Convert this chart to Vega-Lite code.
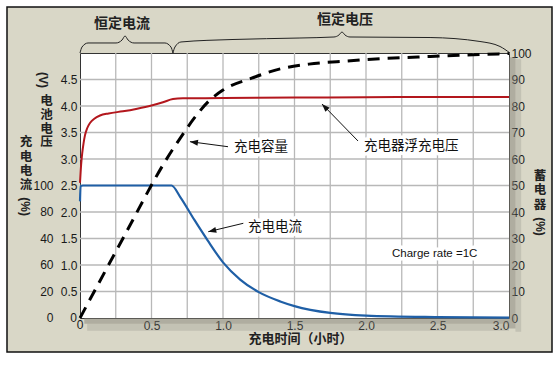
{
  "$schema": "https://vega.github.io/schema/vega-lite/v6.json",
  "width": 429,
  "height": 265,
  "autosize": {"type": "none"},
  "padding": {"left": 80, "top": 53, "right": 51, "bottom": 51},
  "background": "#d9d7c7",
  "config": {
    "view": {"fill": "#ffffff", "stroke": "#333333", "strokeWidth": 1},
    "axis": {
      "labelFont": "Liberation Sans",
      "labelFontSize": 12,
      "labelColor": "#1a1a1a",
      "domain": false,
      "ticks": false,
      "grid": false,
      "labelOverlap": false
    }
  },
  "datasets": {
    "margins": [
      {"t": -0.6, "t2": -0.5105, "v": -1.0, "v2": 6.1},
      {"t": 3.3007, "t2": 3.4, "v": -1.0, "v2": 6.1},
      {"t": -0.6, "t2": 3.4, "v": 5.868, "v2": 6.1},
      {"t": -0.6, "t2": 3.4, "v": -1.0, "v2": -0.6415}
    ],
    "border": [
      {"t": -0.5105, "t2": 3.3007, "v": -0.6415, "v2": 5.868}
    ],
    "shadow": [
      {"part": "inner", "t": 3.0, "t2": 3.045, "v": -0.2, "v2": 4.92},
      {"part": "outer", "t": 3.045, "t2": 3.085, "v": -0.26, "v2": 4.88},
      {"part": "inner", "t": 0.03, "t2": 3.0, "v": -0.11, "v2": 0},
      {"part": "outer", "t": 0.05, "t2": 3.0, "v": -0.24, "v2": -0.11}
    ],
    "gridT": [
      {"t": 0.25}, {"t": 0.5}, {"t": 0.75}, {"t": 1.0}, {"t": 1.25}, {"t": 1.5},
      {"t": 1.75}, {"t": 2.0}, {"t": 2.25}, {"t": 2.5}, {"t": 2.75}
    ],
    "gridV": [
      {"v": 0.5}, {"v": 1.0}, {"v": 1.5}, {"v": 2.0}, {"v": 2.5},
      {"v": 3.0}, {"v": 3.5}, {"v": 4.0}, {"v": 4.5}
    ],
    "voltage": [
      {"t": 0, "v": 2.55}, {"t": 0.008, "v": 2.9}, {"t": 0.016, "v": 3.12}, {"t": 0.025, "v": 3.3},
      {"t": 0.035, "v": 3.45}, {"t": 0.05, "v": 3.58}, {"t": 0.07, "v": 3.68}, {"t": 0.1, "v": 3.76},
      {"t": 0.14, "v": 3.82}, {"t": 0.2, "v": 3.86}, {"t": 0.3, "v": 3.9}, {"t": 0.4, "v": 3.95},
      {"t": 0.5, "v": 4.01}, {"t": 0.58, "v": 4.07}, {"t": 0.65, "v": 4.13}, {"t": 0.72, "v": 4.145},
      {"t": 1.0, "v": 4.15}, {"t": 1.5, "v": 4.16}, {"t": 2.0, "v": 4.165}, {"t": 2.5, "v": 4.17}, {"t": 3.0, "v": 4.17}
    ],
    "current": [
      {"t": 0, "c": 88}, {"t": 0.004, "c": 99.5}, {"t": 0.02, "c": 100}, {"t": 0.3, "c": 100},
      {"t": 0.64, "c": 100}, {"t": 0.7, "c": 91.5}, {"t": 0.8, "c": 74}, {"t": 0.89, "c": 59},
      {"t": 1.0, "c": 42}, {"t": 1.12, "c": 29}, {"t": 1.25, "c": 19.5}, {"t": 1.4, "c": 12.5},
      {"t": 1.5, "c": 9}, {"t": 1.75, "c": 3.8}, {"t": 2.0, "c": 1.8}, {"t": 2.5, "c": 0.7}, {"t": 3.0, "c": 0.3}
    ],
    "capacity": [
      {"t": 0, "cap": 0}, {"t": 0.3, "cap": 30}, {"t": 0.6, "cap": 59.5}, {"t": 0.65, "cap": 63.8},
      {"t": 0.7, "cap": 67.8}, {"t": 0.8, "cap": 75.5}, {"t": 0.9, "cap": 81.8}, {"t": 1.0, "cap": 86},
      {"t": 1.2, "cap": 90.5}, {"t": 1.4, "cap": 94}, {"t": 1.6, "cap": 95.8}, {"t": 1.87, "cap": 97},
      {"t": 2.0, "cap": 97.5}, {"t": 2.45, "cap": 98.7}, {"t": 3.0, "cap": 99.8}
    ],
    "braces": [
      {"b": "cc", "t": 0, "v": 5.0}, {"b": "cc", "t": 0.014, "v": 5.113}, {"b": "cc", "t": 0.056, "v": 5.189},
      {"b": "cc", "t": 0.252, "v": 5.189}, {"b": "cc", "t": 0.294, "v": 5.245}, {"b": "cc", "t": 0.315, "v": 5.321},
      {"b": "cc", "t": 0.336, "v": 5.245}, {"b": "cc", "t": 0.378, "v": 5.189}, {"b": "cc", "t": 0.594, "v": 5.189},
      {"b": "cc", "t": 0.636, "v": 5.113}, {"b": "cc", "t": 0.65, "v": 5.0},
      {"b": "cv", "t": 0.65, "v": 5.0}, {"b": "cv", "t": 0.664, "v": 5.113}, {"b": "cv", "t": 0.706, "v": 5.208},
      {"b": "cv", "t": 1.07, "v": 5.255}, {"b": "cv", "t": 1.538, "v": 5.283}, {"b": "cv", "t": 1.776, "v": 5.302},
      {"b": "cv", "t": 1.811, "v": 5.34}, {"b": "cv", "t": 1.832, "v": 5.396}, {"b": "cv", "t": 1.853, "v": 5.34},
      {"b": "cv", "t": 1.888, "v": 5.302}, {"b": "cv", "t": 2.448, "v": 5.292}, {"b": "cv", "t": 2.797, "v": 5.217},
      {"b": "cv", "t": 2.937, "v": 5.123}, {"b": "cv", "t": 3.007, "v": 5.0}
    ],
    "arrows": [
      {"id": "cap", "t": 0.769, "v": 3.327, "t2": 1.035, "v2": 3.232},
      {"id": "cur", "t": 0.897, "v": 1.628, "t2": 1.142, "v2": 1.787},
      {"id": "flt", "t": 1.692, "v": 4.038, "t2": 1.944, "v2": 3.34}
    ],
    "labels": [
      {"t": 1.077, "v": 3.217, "label": "充电容量"},
      {"t": 1.175, "v": 1.717, "label": "充电电流"},
      {"t": 1.986, "v": 3.245, "label": "充电器浮充电压"}
    ],
    "note": [
      {"t": 2.182, "v": 1.208, "label": "Charge rate =1C"}
    ],
    "currentTicks": [
      {"t": -0.185, "v": 0, "label": "0"}, {"t": -0.185, "v": 0.5, "label": "20"},
      {"t": -0.185, "v": 1.0, "label": "60"}, {"t": -0.185, "v": 1.5, "label": "40"},
      {"t": -0.185, "v": 2.0, "label": "80"}, {"t": -0.185, "v": 2.5, "label": "100"}
    ],
    "chars": [
      {"t": -0.234, "v": 4.094, "ch": "电"}, {"t": -0.234, "v": 3.83, "ch": "池"},
      {"t": -0.234, "v": 3.575, "ch": "电"}, {"t": -0.234, "v": 3.321, "ch": "压"},
      {"t": -0.378, "v": 3.321, "ch": "充"}, {"t": -0.378, "v": 3.047, "ch": "电"},
      {"t": -0.378, "v": 2.774, "ch": "电"}, {"t": -0.378, "v": 2.509, "ch": "流"},
      {"t": 3.217, "v": 2.679, "ch": "蓄"}, {"t": 3.217, "v": 2.406, "ch": "电"},
      {"t": 3.217, "v": 2.132, "ch": "器"}
    ],
    "titles": [
      {"role": "rot", "t": -0.259, "v": 4.49, "label": "(V)"},
      {"role": "rot", "t": -0.385, "v": 2.1, "label": "(%)"},
      {"role": "rot", "t": 3.217, "v": 1.726, "label": "(%)"},
      {"role": "head", "t": 0.294, "v": 5.547, "label": "恒定电流"},
      {"role": "head", "t": 1.853, "v": 5.623, "label": "恒定电压"},
      {"role": "xtitle", "t": 1.542, "v": -0.405, "label": "充电时间（小时）"},
      {"role": "zero", "t": -0.021, "v": 0, "label": "0"},
      {"role": "xzero", "t": 0, "v": -0.135, "label": "0"}
    ]
  },
  "resolve": {"scale": {"x": "independent", "y": "independent"}},
  "layer": [
    {
      "layer": [
        {
          "data": {"name": "margins"},
          "mark": {"type": "rect", "fill": "#ffffff"},
          "encoding": {
            "x": {"field": "t", "type": "quantitative", "scale": {"domain": [0, 3], "nice": false, "zero": false}, "axis": null},
            "x2": {"field": "t2"},
            "y": {"field": "v", "type": "quantitative", "scale": {"domain": [0, 5], "nice": false, "zero": false}, "axis": null},
            "y2": {"field": "v2"}
          }
        },
        {
          "data": {"name": "border"},
          "mark": {"type": "rect", "filled": false, "stroke": "#111111", "strokeWidth": 1.5},
          "encoding": {
            "x": {"field": "t", "type": "quantitative", "scale": {"domain": [0, 3], "nice": false, "zero": false}, "axis": null},
            "x2": {"field": "t2"},
            "y": {"field": "v", "type": "quantitative", "scale": {"domain": [0, 5], "nice": false, "zero": false}, "axis": null},
            "y2": {"field": "v2"}
          }
        },
        {
          "data": {"name": "shadow"},
          "transform": [{"filter": "datum.part == 'inner'"}],
          "mark": {"type": "rect", "fill": "#85847a", "opacity": 0.5},
          "encoding": {
            "x": {"field": "t", "type": "quantitative", "scale": {"domain": [0, 3], "nice": false, "zero": false}, "axis": null},
            "x2": {"field": "t2"},
            "y": {"field": "v", "type": "quantitative", "scale": {"domain": [0, 5], "nice": false, "zero": false}, "axis": null},
            "y2": {"field": "v2"}
          }
        },
        {
          "data": {"name": "shadow"},
          "transform": [{"filter": "datum.part == 'outer'"}],
          "mark": {"type": "rect", "fill": "#85847a", "opacity": 0.25},
          "encoding": {
            "x": {"field": "t", "type": "quantitative", "scale": {"domain": [0, 3], "nice": false, "zero": false}, "axis": null},
            "x2": {"field": "t2"},
            "y": {"field": "v", "type": "quantitative", "scale": {"domain": [0, 5], "nice": false, "zero": false}, "axis": null},
            "y2": {"field": "v2"}
          }
        },
        {
          "data": {"name": "gridT"},
          "mark": {"type": "rule", "color": "#b8b8b8", "strokeWidth": 1.3},
          "encoding": {
            "x": {"field": "t", "type": "quantitative", "scale": {"domain": [0, 3], "nice": false, "zero": false}, "axis": null}
          }
        },
        {
          "data": {"name": "gridV"},
          "mark": {"type": "rule", "color": "#b8b8b8", "strokeWidth": 1.3},
          "encoding": {
            "y": {"field": "v", "type": "quantitative", "scale": {"domain": [0, 5], "nice": false, "zero": false}, "axis": null}
          }
        }
      ]
    },
    {
      "data": {"name": "voltage"},
      "mark": {"type": "line", "color": "#b3171d", "strokeWidth": 2, "interpolate": "monotone"},
      "encoding": {
        "x": {"field": "t", "type": "quantitative", "scale": {"domain": [0, 3], "nice": false, "zero": false}, "axis": null},
        "y": {
          "field": "v", "type": "quantitative",
          "scale": {"domain": [0, 5], "nice": false, "zero": false},
          "axis": {
            "orient": "left",
            "values": [0.5, 1, 1.5, 2, 2.5, 3, 3.5, 4, 4.5],
            "format": ".1f",
            "grid": false,
            "labelPadding": 3,
            "title": null
          }
        }
      }
    },
    {
      "data": {"name": "current"},
      "mark": {"type": "line", "color": "#1f5fa6", "strokeWidth": 2.2, "interpolate": "monotone"},
      "encoding": {
        "x": {"field": "t", "type": "quantitative", "scale": {"domain": [0, 3], "nice": false, "zero": false}, "axis": null},
        "y": {"field": "c", "type": "quantitative", "scale": {"domain": [0, 200], "nice": false}, "axis": null}
      }
    },
    {
      "data": {"name": "capacity"},
      "mark": {"type": "line", "color": "#000000", "strokeWidth": 3, "strokeDash": [12, 8], "interpolate": "monotone"},
      "encoding": {
        "x": {
          "field": "t", "type": "quantitative",
          "scale": {"domain": [0, 3], "nice": false, "zero": false},
          "axis": {
            "orient": "bottom",
            "values": [0.5, 1, 1.5, 2, 2.5, 3],
            "format": ".1f",
            "grid": false,
            "labelFlush": true,
            "labelPadding": 2,
            "title": null
          }
        },
        "y": {
          "field": "cap", "type": "quantitative",
          "scale": {"domain": [0, 100], "nice": false},
          "axis": {
            "orient": "right",
            "values": [0, 10, 20, 30, 40, 50, 60, 70, 80, 90, 100],
            "grid": false,
            "labelPadding": 2,
            "title": null
          }
        }
      }
    },
    {
      "encoding": {
        "x": {"field": "t", "type": "quantitative", "scale": {"domain": [0, 3], "nice": false, "zero": false}, "axis": null},
        "y": {"field": "v", "type": "quantitative", "scale": {"domain": [0, 5], "nice": false, "zero": false}, "axis": null}
      },
      "layer": [
        {
          "data": {"name": "braces"},
          "mark": {"type": "line", "color": "#222222", "strokeWidth": 1, "interpolate": "monotone"},
          "encoding": {"detail": {"field": "b"}}
        },
        {
          "data": {"name": "arrows"},
          "mark": {"type": "rule", "color": "#111111", "strokeWidth": 1},
          "encoding": {"x2": {"field": "t2"}, "y2": {"field": "v2"}}
        },
        {
          "data": {"name": "arrows"},
          "transform": [{"filter": "datum.id == 'cap'"}],
          "mark": {"type": "point", "shape": "M0,0L0.6,1.6L-0.6,1.6Z", "filled": true, "color": "#111111", "opacity": 1, "size": 100, "angle": 277.5}
        },
        {
          "data": {"name": "arrows"},
          "transform": [{"filter": "datum.id == 'cur'"}],
          "mark": {"type": "point", "shape": "M0,0L0.6,1.6L-0.6,1.6Z", "filled": true, "color": "#111111", "opacity": 1, "size": 100, "angle": 256.5}
        },
        {
          "data": {"name": "arrows"},
          "transform": [{"filter": "datum.id == 'flt'"}],
          "mark": {"type": "point", "shape": "M0,0L0.6,1.6L-0.6,1.6Z", "filled": true, "color": "#111111", "opacity": 1, "size": 100, "angle": 315.8}
        },
        {
          "data": {"name": "labels"},
          "mark": {"type": "text", "align": "left", "baseline": "middle", "font": "Noto Sans CJK SC", "fontSize": 13.5, "fill": "#ffffff", "stroke": "#ffffff", "strokeWidth": 7, "strokeJoin": "round"},
          "encoding": {"text": {"field": "label"}}
        },
        {
          "data": {"name": "labels"},
          "mark": {"type": "text", "align": "left", "baseline": "middle", "font": "Noto Sans CJK SC", "fontSize": 13.5, "color": "#111111"},
          "encoding": {"text": {"field": "label"}}
        },
        {
          "data": {"name": "note"},
          "mark": {"type": "text", "align": "left", "baseline": "middle", "font": "Liberation Sans", "fontSize": 11.5, "fill": "#ffffff", "stroke": "#ffffff", "strokeWidth": 7, "strokeJoin": "round"},
          "encoding": {"text": {"field": "label"}}
        },
        {
          "data": {"name": "note"},
          "mark": {"type": "text", "align": "left", "baseline": "middle", "font": "Liberation Sans", "fontSize": 11.5, "color": "#111111"},
          "encoding": {"text": {"field": "label"}}
        },
        {
          "data": {"name": "currentTicks"},
          "mark": {"type": "text", "align": "right", "baseline": "middle", "font": "Liberation Sans", "fontSize": 12, "color": "#1a1a1a"},
          "encoding": {"text": {"field": "label"}}
        },
        {
          "data": {"name": "chars"},
          "mark": {"type": "text", "align": "center", "baseline": "middle", "font": "Noto Sans CJK SC", "fontSize": 12.5, "fontWeight": "bold", "color": "#222222"},
          "encoding": {"text": {"field": "ch"}}
        },
        {
          "data": {"name": "titles"},
          "transform": [{"filter": "datum.role == 'rot'"}],
          "mark": {"type": "text", "align": "center", "baseline": "middle", "font": "Liberation Sans", "fontSize": 12, "fontWeight": "bold", "angle": 90, "color": "#222222"},
          "encoding": {"text": {"field": "label"}}
        },
        {
          "data": {"name": "titles"},
          "transform": [{"filter": "datum.role == 'head'"}],
          "mark": {"type": "text", "align": "center", "baseline": "middle", "font": "Noto Sans CJK SC", "fontSize": 14, "fontWeight": "bold", "color": "#222222"},
          "encoding": {"text": {"field": "label"}}
        },
        {
          "data": {"name": "titles"},
          "transform": [{"filter": "datum.role == 'xtitle'"}],
          "mark": {"type": "text", "align": "center", "baseline": "middle", "font": "Noto Sans CJK SC", "fontSize": 13, "fontWeight": "bold", "color": "#222222"},
          "encoding": {"text": {"field": "label"}}
        },
        {
          "data": {"name": "titles"},
          "transform": [{"filter": "datum.role == 'zero'"}],
          "mark": {"type": "text", "align": "right", "baseline": "middle", "font": "Liberation Sans", "fontSize": 12, "color": "#1a1a1a"},
          "encoding": {"text": {"field": "label"}}
        },
        {
          "data": {"name": "titles"},
          "transform": [{"filter": "datum.role == 'xzero'"}],
          "mark": {"type": "text", "align": "center", "baseline": "middle", "font": "Liberation Sans", "fontSize": 12, "color": "#1a1a1a"},
          "encoding": {"text": {"field": "label"}}
        }
      ]
    }
  ]
}
